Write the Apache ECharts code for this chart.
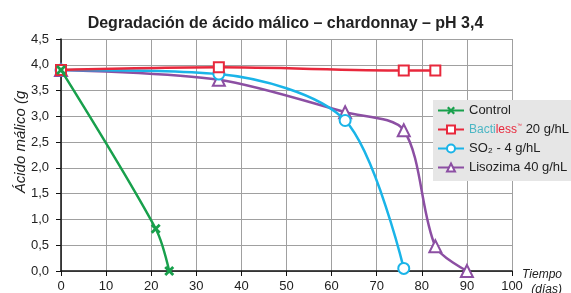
<!DOCTYPE html>
<html>
<head>
<meta charset="utf-8">
<script src="https://cdn.jsdelivr.net/npm/echarts@6/dist/echarts.min.js"></script>
<style>html,body{margin:0;padding:0;background:#fff;}#c{width:571px;height:293px;}</style>
</head>
<body>
<div id="c"></div>
<script>
var titleText = 'Degradación de ácido málico – chardonnay – pH 3,4';
var xTicks = [0,10,20,30,40,50,60,70,80,90,100];
var yTicks = [0,0.5,1,1.5,2,2.5,3,3.5,4,4.5];
var seriesNames = ['Control', 'Bactiless™ 20 g/hL', 'SO₂ - 4 g/hL', 'Lisozima 40 g/hL'];
var controlDays = [0, 21, 24];
var controlVals = [3.9, 0.82, 0.0];
var bactilessDays = [0, 35, 76, 83];
var bactilessVals = [3.9, 3.95, 3.89, 3.89];
var so2Days = [0, 35, 63, 76];
var so2Vals = [3.9, 3.82, 2.92, 0.05];
var lisoDays = [0, 35, 63, 76, 83, 90];
var lisoVals = [3.9, 3.71, 3.08, 2.73, 0.48, 0.0];

function pairs(xs, ys){ return xs.map(function(x,i){ return [x, ys[i]]; }); }

var font = 'Liberation Sans, Arial, Helvetica, sans-serif';
var colors = ['#18a04c', '#e8283c', '#1ab4e8', '#8c4fa3'];
var xPath = 'path://M2,0 L5,3 L8,0 L10,2 L7,5 L10,8 L8,10 L5,7 L2,10 L0,8 L3,5 L0,2 Z';

var chart = echarts.init(document.getElementById('c'), null, {renderer:'canvas'});
chart.setOption({
  animation: false,
  textStyle: {fontFamily: font},
  title: {text: titleText, left: 'center', top: 11,
    textStyle: {fontFamily: font, fontSize: 16, fontWeight: 'bold', color: '#222'}},
  grid: {left: 61, right: 59, top: 39, bottom: 22, containLabel: false, outerBoundsMode: 'none'},
  legend: {
    orient: 'vertical', left: 433, top: 100, width: 134,
    backgroundColor: '#e6e6e6', padding: [4, 8, 7, 4], itemGap: 6,
    itemWidth: 26, itemHeight: 10,
    data: seriesNames,
    textStyle: {fontFamily: font, fontSize: 13, color: '#222',
      rich: {
        t: {color: '#4bb6c4', fontSize: 12, fontFamily: font},
        l: {color: '#e8283c', fontSize: 12, fontFamily: font},
        tm: {color: '#e8283c', fontSize: 5, fontFamily: font, verticalAlign: 'top', padding:[0,0,6,0]},
        n: {color: '#222', fontSize: 13, fontFamily: font}
      }},
    formatter: function(name){
      if (name.indexOf('Bactiless') === 0) {
        return '{t|Bacti}{l|less}{tm|™}{n| 20 g/hL}';
      }
      return name;
    }
  },
  xAxis: {
    type: 'value', min: 0, max: 100, interval: 10,
    name: 'Tiempo\n(días)', nameLocation: 'end', nameGap: 50, nameMoveOverlap: false,
    nameTextStyle: {fontFamily: font, fontSize: 12, fontStyle: 'italic', color: '#222', align: 'right', verticalAlign: 'top', lineHeight: 15, padding: [-4, 0, 0, 0]},
    axisLine: {lineStyle: {color: '#111', width: 1.5}},
    axisTick: {show: true, length: 5, lineStyle: {color: '#111'}},
    axisLabel: {fontFamily: font, fontSize: 13, color: '#222', margin: 9,
      formatter: function(v){ return xTicks.indexOf(v) >= 0 ? String(v) : ''; }},
    splitLine: {show: true, lineStyle: {color: '#a0a0a0', width: 1}}
  },
  yAxis: {
    type: 'value', min: 0, max: 4.5, interval: 0.5,
    name: 'Ácido málico (g', nameLocation: 'middle', nameGap: 33, nameRotate: 90, nameMoveOverlap: false,
    nameTextStyle: {fontFamily: font, fontSize: 15, fontStyle: 'italic', color: '#222', padding: [0, 0, 0, 26]},
    axisLine: {show: true, lineStyle: {color: '#111', width: 1.5}},
    axisTick: {show: true, length: 5, lineStyle: {color: '#111'}},
    axisLabel: {fontFamily: font, fontSize: 13, color: '#222', margin: 12,
      formatter: function(v){ return yTicks.indexOf(v) >= 0 ? v.toFixed(1).replace('.', ',') : ''; }},
    splitLine: {show: true, lineStyle: {color: '#a0a0a0', width: 1}}
  },
  series: [
    {name: seriesNames[0], type: 'line', data: pairs(controlDays, controlVals), smooth: 0.3,
      symbol: xPath, symbolSize: 10, showAllSymbol: true,
      lineStyle: {color: colors[0], width: 2.5}, itemStyle: {color: colors[0]}, z: 5},
    {name: seriesNames[1], type: 'line', data: pairs(bactilessDays, bactilessVals), smooth: 0.3,
      symbol: 'emptyRect', symbolSize: 10,
      lineStyle: {color: colors[1], width: 2.5}, itemStyle: {color: colors[1], borderWidth: 1.5}, z: 4},
    {name: seriesNames[2], type: 'line', data: pairs(so2Days, so2Vals), smooth: 0.3,
      symbol: 'emptyCircle', symbolSize: 11,
      lineStyle: {color: colors[2], width: 2.5}, itemStyle: {color: colors[2], borderWidth: 1.5}, z: 3},
    {name: seriesNames[3], type: 'line', data: pairs(lisoDays, lisoVals), smooth: 0.3,
      symbol: 'emptyTriangle', symbolSize: 12,
      lineStyle: {color: colors[3], width: 2.5}, itemStyle: {color: colors[3], borderWidth: 1.5}, z: 2}
  ]
});
</script>
</body>
</html>
